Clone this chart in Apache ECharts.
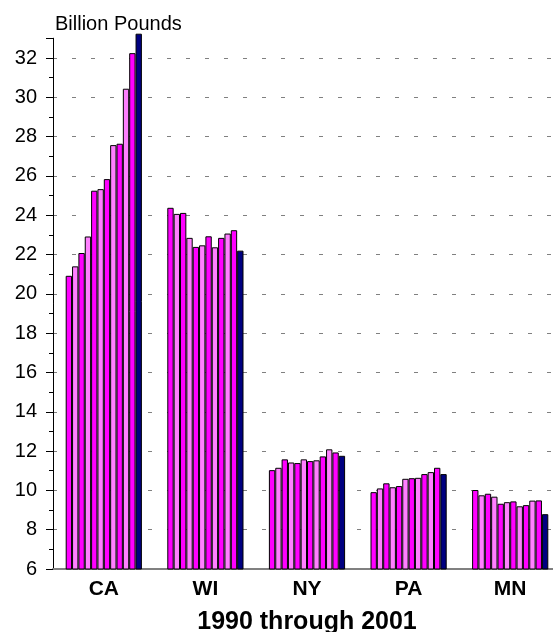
<!DOCTYPE html>
<html>
<head>
<meta charset="utf-8">
<script src="https://cdn.jsdelivr.net/npm/echarts@6/dist/echarts.min.js"></script>
<style>
  html, body { margin: 0; padding: 0; background: #fff; }
  #chartmain { width: 553px; height: 632px; }
</style>
</head>
<body>
<div id="chartmain"></div>
<script>
// states on the x axis, one bar per year inside each state
var states = ['CA', 'WI', 'NY', 'PA', 'MN'];
var years = ['1990','1991','1992','1993','1994','1995','1996','1997','1998','1999','2000','2001'];

// milk production, billion pounds, 1990..2001
var ca = [20.92, 21.40, 22.08, 22.92, 25.25, 25.33, 25.84, 27.57, 27.64, 30.44, 32.25, 33.24];
var wi = [24.38, 24.07, 24.12, 22.85, 22.39, 22.47, 22.93, 22.37, 22.85, 23.07, 23.24, 22.20];
var ny = [11.03, 11.15, 11.58, 11.42, 11.39, 11.58, 11.49, 11.53, 11.73, 12.09, 11.93, 11.76];
var pa = [9.91, 10.10, 10.36, 10.16, 10.22, 10.59, 10.62, 10.64, 10.83, 10.93, 11.15, 10.83];
var mn = [10.02, 9.75, 9.83, 9.68, 9.32, 9.40, 9.44, 9.19, 9.25, 9.48, 9.49, 8.79];

var font = 'Arial, "Liberation Sans", sans-serif';
var myChart = echarts.init(document.getElementById('chartmain'));

var series = [];
for (var i = 0; i < years.length; i++) {
	var color = (i == years.length - 1) ? '#000080' : (i % 2 == 0 ? '#FF00FF' : '#FF80FF');
	series.push({
		name: years[i],
		type: 'bar',
		xAxisIndex: 0,
		yAxisIndex: 0,
		barGap: '0%',
		barCategoryGap: '25%',
		itemStyle: { color: color, borderColor: '#000', borderWidth: 1 },
		data: [ca[i], wi[i], ny[i], pa[i], mn[i]]
	});
}

// grid 0 goes a little higher than the axis so the 2001 CA bar is not cut
// grid 1 carries the drawn axis line, which stops at 33
option = {
	backgroundColor: '#fff',
	animation: false,
	grid: [
		{ left: 53, top: 33.5, width: 508, bottom: 63, outerBoundsMode: 'none', containLabel: false },
		{ left: 53, top: 38.3, width: 508, bottom: 63, outerBoundsMode: 'none', containLabel: false }
	],
	xAxis: [{
		type: 'category',
		gridIndex: 0,
		data: states,
		name: '1990 through 2001',
		nameLocation: 'middle',
		nameGap: 41,
		nameTextStyle: { fontFamily: font, fontSize: 25, fontWeight: 'bold', color: '#000' },
		axisLine: { lineStyle: { color: '#808080', width: 2 } },
		axisTick: { show: false },
		axisLabel: { fontFamily: font, fontSize: 21, fontWeight: 'bold', color: '#000', margin: 10 }
	}, {
		type: 'category',
		gridIndex: 1,
		data: states,
		show: false
	}],
	yAxis: [{
		type: 'value',
		gridIndex: 0,
		position: 'left',
		min: 6,
		max: 33.25,
		interval: 2,
		axisLine: { show: false },
		axisTick: { show: false },
		axisLabel: { fontFamily: font, fontSize: 20, color: '#000', margin: 16, showMaxLabel: false },
		splitLine: { show: true, showMinLine: false, showMaxLine: false, lineStyle: { color: '#808080', width: 1, type: [4, 15] } }
	}, {
		type: 'value',
		gridIndex: 1,
		position: 'left',
		offset: 0,
		min: 6,
		max: 33,
		interval: 2,
		name: 'Billion Pounds',
		nameLocation: 'end',
		nameGap: 4,
		nameTextStyle: { fontFamily: font, fontSize: 20, color: '#000', align: 'left', verticalAlign: 'bottom', padding: [0, 0, 0, 2] },
		axisLine: { show: true, onZero: false, lineStyle: { color: '#000', width: 1 } },
		axisTick: { show: true, length: 7, lineStyle: { color: '#000' } },
		axisLabel: { show: false },
		splitLine: { show: false }
	}, {
		// small ticks at every unit
		type: 'value',
		gridIndex: 1,
		position: 'left',
		offset: 0,
		min: 6,
		max: 33,
		interval: 1,
		axisLine: { show: true, onZero: false, lineStyle: { color: '#000', width: 1 } },
		axisTick: { show: true, length: 4, lineStyle: { color: '#000' } },
		axisLabel: { show: false },
		splitLine: { show: false }
	}],
	series: series
};
myChart.setOption(option);
</script>
</body>
</html>
